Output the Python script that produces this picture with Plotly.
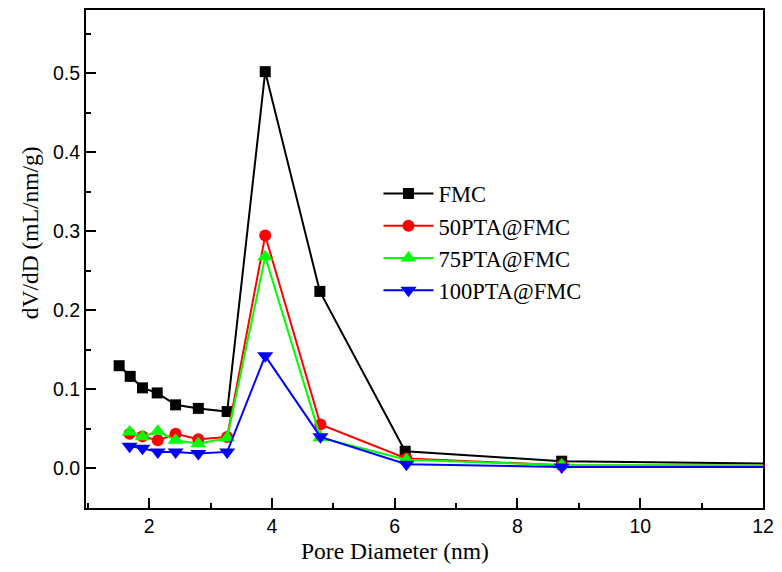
import plotly.graph_objects as go

# Pore diameters (nm)
x_fmc = [1.51, 1.69, 1.89, 2.13, 2.43, 2.80, 3.27, 3.89, 4.78, 6.17, 8.72, 16.0]
x_pta = [1.68, 1.89, 2.14, 2.43, 2.80, 3.27, 3.89, 4.79, 6.19, 8.72, 16.0]

# dV/dD values (mL/nm/g)
y_fmc = [0.130, 0.1165, 0.102, 0.0956, 0.0805, 0.076, 0.072, 0.502, 0.224, 0.0218, 0.0092, 0.003]
y_50 = [0.044, 0.0406, 0.0356, 0.044, 0.0369, 0.0398, 0.2947, 0.0557, 0.0126, 0.0042, 0.0025]
y_75 = [0.046, 0.040, 0.047, 0.0356, 0.0314, 0.0385, 0.268, 0.0390, 0.0110, 0.0045, 0.0028]
y_100 = [0.028, 0.0255, 0.021, 0.021, 0.019, 0.021, 0.1425, 0.040, 0.0054, 0.0020, 0.0015]

names = ["FMC", "50PTA@FMC", "75PTA@FMC", "100PTA@FMC"]
colors = ["#000000", "#FF0000", "#00FF00", "#0000FF"]
symbols = ["square", "circle", "triangle-up", "triangle-down"]
sizes = [11, 12, 14, 14]

x_range = [0.97, 12.0]
y_range = [-0.05, 0.58]
x_ticks = [2, 4, 6, 8, 10, 12]
y_ticks = [0.0, 0.1, 0.2, 0.3, 0.4, 0.5]

serif = "Liberation Serif"
sans = "Liberation Sans"

fig = go.Figure()
for xs, ys, n, c, s, sz in zip([x_fmc, x_pta, x_pta, x_pta], [y_fmc, y_50, y_75, y_100],
                               names, colors, symbols, sizes):
    fig.add_trace(go.Scatter(
        x=xs, y=ys, name=n, mode="lines+markers",
        line=dict(color=c, width=2),
        marker=dict(symbol=s, size=sz, color=c, line=dict(width=0)),
    ))
# empty trace so the tick-only overlay axes are drawn
fig.add_trace(go.Scatter(x=[], y=[], xaxis="x2", yaxis="y2", showlegend=False, hoverinfo="skip"))

label_axis = dict(
    showgrid=False, zeroline=False, showline=True, linecolor="black", linewidth=2,
    mirror=True, ticks="", tickfont=dict(family=sans, size=19.5, color="black"),
)
tick_axis = dict(
    showgrid=False, zeroline=False, showline=False, showticklabels=False,
    ticks="inside", ticklen=10, tickwidth=2, tickcolor="black",
)

fig.update_layout(
    xaxis=dict(range=x_range, tickvals=x_ticks, ticktext=[str(v) for v in x_ticks], **label_axis),
    yaxis=dict(range=y_range, tickvals=y_ticks, ticktext=[f"{v:.1f}" for v in y_ticks], **label_axis),
    xaxis2=dict(range=x_range, overlaying="x", anchor="y", side="bottom", dtick=2, tick0=0,
                minor=dict(ticks="inside", ticklen=5, tickwidth=2, tickcolor="black", dtick=1, tick0=0),
                **tick_axis),
    yaxis2=dict(range=y_range, overlaying="y", anchor="x", side="left", dtick=0.1, tick0=0,
                minor=dict(ticks="inside", ticklen=5, tickwidth=2, tickcolor="black", dtick=0.05, tick0=0),
                **tick_axis),
)

fig.add_annotation(text="Pore Diameter (nm)", xref="paper", yref="paper",
                   x=0.457, y=-0.086, xanchor="center", yanchor="middle", showarrow=False,
                   font=dict(family=serif, size=23.5, color="black"))
fig.add_annotation(text="dV/dD (mL/nm/g)", xref="paper", yref="paper", textangle=-90,
                   x=-0.0824, y=0.552, xanchor="center", yanchor="middle", showarrow=False,
                   font=dict(family=serif, size=23.5, color="black"))

fig.update_layout(
    width=782, height=572,
    margin=dict(l=86, r=16, t=8, b=64),
    paper_bgcolor="white", plot_bgcolor="white",
    legend=dict(x=0.432, y=0.674, xanchor="left", yanchor="top",
                font=dict(family=serif, size=22.5, color="black"),
                bgcolor="rgba(0,0,0,0)", borderwidth=0, itemwidth=50),
    showlegend=True,
)

fig.write_html("out.html")
